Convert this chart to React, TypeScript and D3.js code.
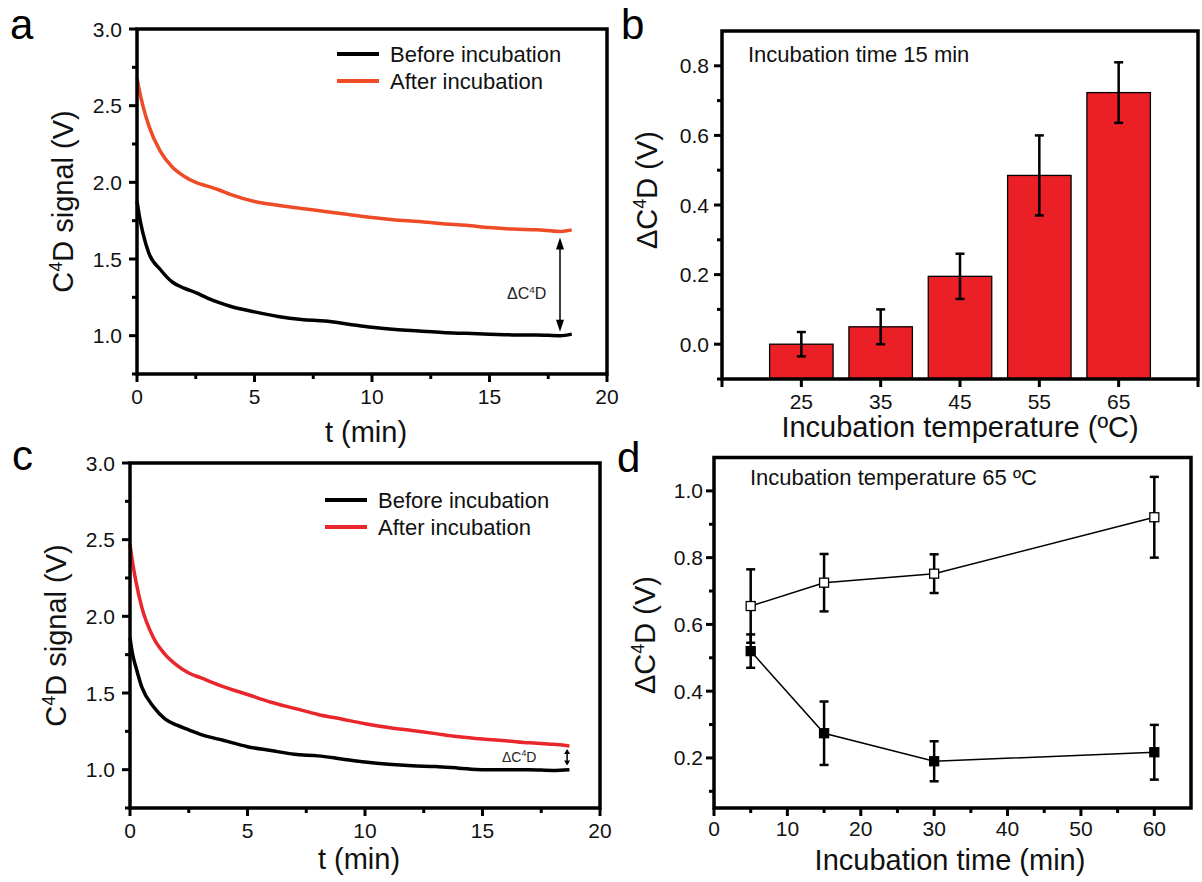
import React from "react";
import * as d3 from "d3";

const FONT = "'Liberation Sans', Arial, Helvetica, sans-serif";

// ---------- Panel a data ----------
const timeA = [0, 0.1, 0.25, 0.5, 1, 1.5, 2, 2.5, 3, 3.5, 4, 5, 6, 7, 8, 9, 10, 11, 12, 13, 14, 15, 16, 17, 18, 18.5];
const beforeA = [1.88, 1.78, 1.67, 1.54, 1.43, 1.35, 1.31, 1.28, 1.245, 1.215, 1.19, 1.155, 1.125, 1.105, 1.095, 1.075, 1.055, 1.04, 1.03, 1.02, 1.015, 1.01, 1.005, 1.005, 1.0, 1.01];
const afterA = [2.68, 2.6, 2.5, 2.37, 2.2, 2.1, 2.04, 2.0, 1.975, 1.95, 1.92, 1.875, 1.85, 1.83, 1.81, 1.79, 1.77, 1.755, 1.745, 1.73, 1.72, 1.705, 1.695, 1.69, 1.68, 1.69];
const arrowA = { t: 18, from: 1.64, to: 1.025 };

// ---------- Panel c data ----------
const timeC = [0, 0.1, 0.25, 0.5, 1, 1.5, 2, 2.5, 3, 4, 5, 6, 7, 8, 9, 10, 11, 12, 13, 14, 15, 16, 17, 18, 18.7];
const beforeC = [1.86, 1.76, 1.67, 1.54, 1.41, 1.33, 1.29, 1.26, 1.23, 1.19, 1.15, 1.125, 1.1, 1.09, 1.07, 1.05, 1.035, 1.025, 1.02, 1.01, 1.0, 1.0, 1.0, 0.995, 1.0];
const afterC = [2.47, 2.36, 2.23, 2.06, 1.86, 1.75, 1.68, 1.63, 1.6, 1.54, 1.49, 1.44, 1.4, 1.36, 1.33, 1.3, 1.275, 1.255, 1.235, 1.215, 1.2, 1.188, 1.175, 1.165, 1.155];
const arrowC = { t: 18.6, from: 1.135, to: 1.027 };

// ---------- Panel b data ----------
const tempsB = [25, 35, 45, 55, 65];
const deltaB = [0.0, 0.05, 0.195, 0.485, 0.723];
const errB = [0.035, 0.05, 0.065, 0.115, 0.087];

// ---------- Panel d data ----------
const timesD = [5, 15, 30, 60];
const openD = [0.655, 0.725, 0.752, 0.921];
const openErrD = [0.11, 0.086, 0.058, 0.121];
const filledD = [0.52, 0.274, 0.19, 0.217];
const filledErrD = [0.05, 0.095, 0.06, 0.082];

// ---------- Tick values ----------
const xMajorAC = [0, 5, 10, 15, 20];
const xMinorAC = [2.5, 7.5, 12.5, 17.5];
const yMajorAC = [1.0, 1.5, 2.0, 2.5, 3.0];
const yMinorAC = [0.75, 1.25, 1.75, 2.25, 2.75];
const xMajorB = [15, 25, 35, 45, 55, 65, 75];
const xLabelsB = [25, 35, 45, 55, 65];
const yMajorB = [0.0, 0.2, 0.4, 0.6, 0.8];
const yMinorB = [-0.1, 0.1, 0.3, 0.5, 0.7];
const xMajorD = [0, 10, 20, 30, 40, 50, 60];
const xMinorD = [5, 15, 25, 35, 45, 55];
const yMajorD = [0.2, 0.4, 0.6, 0.8, 1.0];
const yMinorD = [0.1, 0.3, 0.5, 0.7, 0.9];

const BLACK = "#000";
const RED_A = "#ee4b26";
const RED_C = "#e8262b";
const BAR_RED = "#eb2027";

const TICK_FS = 21;
const TITLE_FS = 29;
const NOTE_FS = 22;
const LETTER_FS = 42;

type Sc = d3.ScaleLinear<number, number>;

function Axes(props: {
  x: Sc; y: Sc; xMajor: number[]; xMinor: number[]; yMajor: number[]; yMinor: number[];
  xLabels?: number[]; xFmt: (v: number) => string; yFmt: (v: number) => string;
  yGap: number; xDy: number;
}) {
  const { x, y, xMajor, xMinor, yMajor, yMinor, xFmt, yFmt, yGap, xDy } = props;
  const xLabels = props.xLabels ?? xMajor;
  const [l, r] = x.range();
  const [b, t] = y.range();
  return (
    <g>
      {yMajor.map((v) => (
        <line key={"ym" + v} x1={l - 8} x2={l} y1={y(v)} y2={y(v)} stroke={BLACK} strokeWidth={3} />
      ))}
      {yMinor.map((v) => (
        <line key={"yn" + v} x1={l - 5} x2={l} y1={y(v)} y2={y(v)} stroke={BLACK} strokeWidth={3} />
      ))}
      {xMajor.map((v) => (
        <line key={"xm" + v} x1={x(v)} x2={x(v)} y1={b} y2={b + 8} stroke={BLACK} strokeWidth={3} />
      ))}
      {xMinor.map((v) => (
        <line key={"xn" + v} x1={x(v)} x2={x(v)} y1={b} y2={b + 5} stroke={BLACK} strokeWidth={3} />
      ))}
      {yMajor.map((v) => (
        <text key={"yl" + v} x={l - yGap} y={y(v) + 7.5} textAnchor="end" fontSize={TICK_FS} fontFamily={FONT} fill="#111">
          {yFmt(v)}
        </text>
      ))}
      {xLabels.map((v) => (
        <text key={"xl" + v} x={x(v)} y={b + xDy} textAnchor="middle" fontSize={TICK_FS} fontFamily={FONT} fill="#111">
          {xFmt(v)}
        </text>
      ))}
      <rect x={l} y={t} width={r - l} height={b - t} fill="none" stroke={BLACK} strokeWidth={3.5} />
    </g>
  );
}

function SignalPanel(props: {
  left: number; right: number; top: number; bottom: number;
  time: number[]; before: number[]; after: number[]; afterColor: string;
  arrow: { t: number; from: number; to: number }; arrowHead: number; arrowHalf: number;
  deltaX: number; deltaY: number; deltaSize: number;
  legendX: number; legendY: number; letter: string; letterX: number; letterY: number;
  yTitleX: number; xTitleY: number;
}) {
  const p = props;
  const x = d3.scaleLinear().domain([0, 20]).range([p.left, p.right]);
  const y = d3.scaleLinear().domain([0.75, 3.0]).range([p.bottom, p.top]);
  const line = d3.line<number>().x((_, i) => x(p.time[i])).y((v) => y(v)).curve(d3.curveMonotoneX);
  const ax = x(p.arrow.t);
  const ay1 = y(p.arrow.from);
  const ay2 = y(p.arrow.to);
  const h = p.arrowHead;
  const w = p.arrowHalf;
  const fmt = d3.format(".1f");
  const cy = (p.top + p.bottom) / 2;
  const cx = (p.left + p.right) / 2;
  return (
    <g>
      <text x={p.letterX} y={p.letterY} fontSize={LETTER_FS} fontFamily={FONT}>{p.letter}</text>
      <path d={line(p.before) ?? ""} fill="none" stroke={BLACK} strokeWidth={3.5} strokeLinejoin="round" />
      <path d={line(p.after) ?? ""} fill="none" stroke={p.afterColor} strokeWidth={3.5} strokeLinejoin="round" />
      {/* delta arrow */}
      <line x1={ax} x2={ax} y1={ay1 + h * 0.8} y2={ay2 - h * 0.8} stroke={BLACK} strokeWidth={1.5} />
      <path d={`M${ax},${ay1} L${ax - w},${ay1 + h} L${ax + w},${ay1 + h} Z`} fill={BLACK} />
      <path d={`M${ax},${ay2} L${ax - w},${ay2 - h} L${ax + w},${ay2 - h} Z`} fill={BLACK} />
      <text x={p.deltaX} y={p.deltaY} fontSize={p.deltaSize} fontFamily={FONT} fill="#222">
        Δ<tspan>C</tspan>
        <tspan dy={-p.deltaSize * 0.4} fontSize={p.deltaSize * 0.62}>4</tspan>
        <tspan dy={p.deltaSize * 0.4}>D</tspan>
      </text>
      {/* legend */}
      <line x1={p.legendX} x2={p.legendX + 42} y1={p.legendY} y2={p.legendY} stroke={BLACK} strokeWidth={4} />
      <text x={p.legendX + 53} y={p.legendY + 8} fontSize={NOTE_FS} fontFamily={FONT} fill="#111">Before incubation</text>
      <line x1={p.legendX} x2={p.legendX + 42} y1={p.legendY + 27} y2={p.legendY + 27} stroke={p.afterColor} strokeWidth={4} />
      <text x={p.legendX + 53} y={p.legendY + 35} fontSize={NOTE_FS} fontFamily={FONT} fill="#111">After incubation</text>
      <Axes x={x} y={y} xMajor={xMajorAC} xMinor={xMinorAC} yMajor={yMajorAC} yMinor={yMinorAC}
        xFmt={(v) => String(v)} yFmt={fmt} yGap={15} xDy={30} />
      <text transform={`translate(${p.yTitleX},${cy}) rotate(-90)`} textAnchor="middle" fontSize={TITLE_FS} fontFamily={FONT} fill="#111">
        C<tspan dy={-11} fontSize={18}>4</tspan><tspan dy={11}>D signal (V)</tspan>
      </text>
      <text x={cx - 6} y={p.xTitleY} textAnchor="middle" fontSize={TITLE_FS} fontFamily={FONT} fill="#111">t (min)</text>
    </g>
  );
}

function DeltaTitle(props: { x: number; y: number }) {
  return (
    <text transform={`translate(${props.x},${props.y}) rotate(-90)`} textAnchor="middle" fontSize={TITLE_FS} fontFamily={FONT} fill="#111">
      ΔC<tspan dy={-11} fontSize={18}>4</tspan><tspan dy={11}>D (V)</tspan>
    </text>
  );
}

function BarPanel() {
  const left = 722, right = 1198, top = 31, bottom = 379;
  const x = d3.scaleLinear().domain([15, 75]).range([left, right]);
  const y = d3.scaleLinear().domain([-0.1, 0.9]).range([bottom, top]);
  const halfW = 4;
  return (
    <g>
      <text x={621} y={39} fontSize={LETTER_FS} fontFamily={FONT}>b</text>
      {tempsB.map((t, i) => (
        <rect key={"bar" + t} x={x(t - halfW)} y={y(deltaB[i])} width={x(t + halfW) - x(t - halfW)}
          height={y(-0.1) - y(deltaB[i])} fill={BAR_RED} stroke={BLACK} strokeWidth={1.3} />
      ))}
      {tempsB.map((t, i) => {
        const cx = x(t);
        const y1 = y(deltaB[i] + errB[i]);
        const y2 = y(deltaB[i] - errB[i]);
        return (
          <g key={"err" + t}>
            <line x1={cx} x2={cx} y1={y1} y2={y2} stroke={BLACK} strokeWidth={2.5} />
            <line x1={cx - 4.5} x2={cx + 4.5} y1={y1} y2={y1} stroke={BLACK} strokeWidth={2.5} />
            <line x1={cx - 4.5} x2={cx + 4.5} y1={y2} y2={y2} stroke={BLACK} strokeWidth={2.5} />
          </g>
        );
      })}
      <Axes x={x} y={y} xMajor={xMajorB} xMinor={[]} yMajor={yMajorB} yMinor={yMinorB} xLabels={xLabelsB}
        xFmt={(v) => String(v)} yFmt={d3.format(".1f")} yGap={13} xDy={30} />
      <text x={748} y={62} fontSize={NOTE_FS} fontFamily={FONT} fill="#111">Incubation time 15 min</text>
      <DeltaTitle x={657} y={190} />
      <text x={(left + right) / 2} y={437} textAnchor="middle" fontSize={TITLE_FS} fontFamily={FONT} fill="#111">
        Incubation temperature (ºC)
      </text>
    </g>
  );
}

function TimePanel() {
  const left = 714, right = 1191, top = 457.5, bottom = 808;
  const x = d3.scaleLinear().domain([0, 65]).range([left, right]);
  const y = d3.scaleLinear().domain([0.05, 1.1]).range([bottom, top]);
  const line = d3.line<number>().x((_, i) => x(timesD[i])).y((v) => y(v));
  const s = 9;
  const errs = (vals: number[], errsArr: number[], key: string) =>
    timesD.map((t, i) => {
      const cx = x(t);
      const y1 = y(vals[i] + errsArr[i]);
      const y2 = y(vals[i] - errsArr[i]);
      return (
        <g key={key + t}>
          <line x1={cx} x2={cx} y1={y1} y2={y2} stroke={BLACK} strokeWidth={2.5} />
          <line x1={cx - 4.5} x2={cx + 4.5} y1={y1} y2={y1} stroke={BLACK} strokeWidth={2.5} />
          <line x1={cx - 4.5} x2={cx + 4.5} y1={y2} y2={y2} stroke={BLACK} strokeWidth={2.5} />
        </g>
      );
    });
  return (
    <g>
      <text x={617} y={472} fontSize={LETTER_FS} fontFamily={FONT}>d</text>
      <path d={line(openD) ?? ""} fill="none" stroke={BLACK} strokeWidth={1.5} />
      <path d={line(filledD) ?? ""} fill="none" stroke={BLACK} strokeWidth={1.5} />
      {errs(openD, openErrD, "oe")}
      {errs(filledD, filledErrD, "fe")}
      {timesD.map((t, i) => (
        <rect key={"om" + t} x={x(t) - s / 2} y={y(openD[i]) - s / 2} width={s} height={s} fill="#fff" stroke={BLACK} strokeWidth={1.3} />
      ))}
      {timesD.map((t, i) => (
        <rect key={"fm" + t} x={x(t) - s / 2} y={y(filledD[i]) - s / 2} width={s} height={s} fill={BLACK} stroke={BLACK} strokeWidth={1.3} />
      ))}
      <Axes x={x} y={y} xMajor={xMajorD} xMinor={xMinorD} yMajor={yMajorD} yMinor={yMinorD}
        xFmt={(v) => String(v)} yFmt={d3.format(".1f")} yGap={11} xDy={28} />
      <text x={750} y={485} fontSize={NOTE_FS} fontFamily={FONT} fill="#111">Incubation temperature 65 ºC</text>
      <DeltaTitle x={655} y={635} />
      <text x={950} y={870} textAnchor="middle" fontSize={TITLE_FS} fontFamily={FONT} fill="#111">
        Incubation time (min)
      </text>
    </g>
  );
}

export default function App() {
  return (
    <svg width={1202} height={882} viewBox="0 0 1202 882"
      style={{ position: "absolute", left: 0, top: 0, background: "#fff" }}>
      <rect x={0} y={0} width={1202} height={882} fill="#fff" />
      <SignalPanel left={137} right={607} top={29} bottom={374} time={timeA} before={beforeA} after={afterA}
        afterColor={RED_A} arrow={arrowA} arrowHead={12} arrowHalf={4} deltaX={507} deltaY={299} deltaSize={16}
        legendX={337} legendY={54} letter="a" letterX={10} letterY={39} yTitleX={73} xTitleY={442} />
      <SignalPanel left={130} right={600} top={463} bottom={808} time={timeC} before={beforeC} after={afterC}
        afterColor={RED_C} arrow={arrowC} arrowHead={5} arrowHalf={3} deltaX={502} deltaY={762} deltaSize={14}
        legendX={325} legendY={500} letter="c" letterX={12} letterY={470} yTitleX={66} xTitleY={869} />
      <BarPanel />
      <TimePanel />
    </svg>
  );
}
